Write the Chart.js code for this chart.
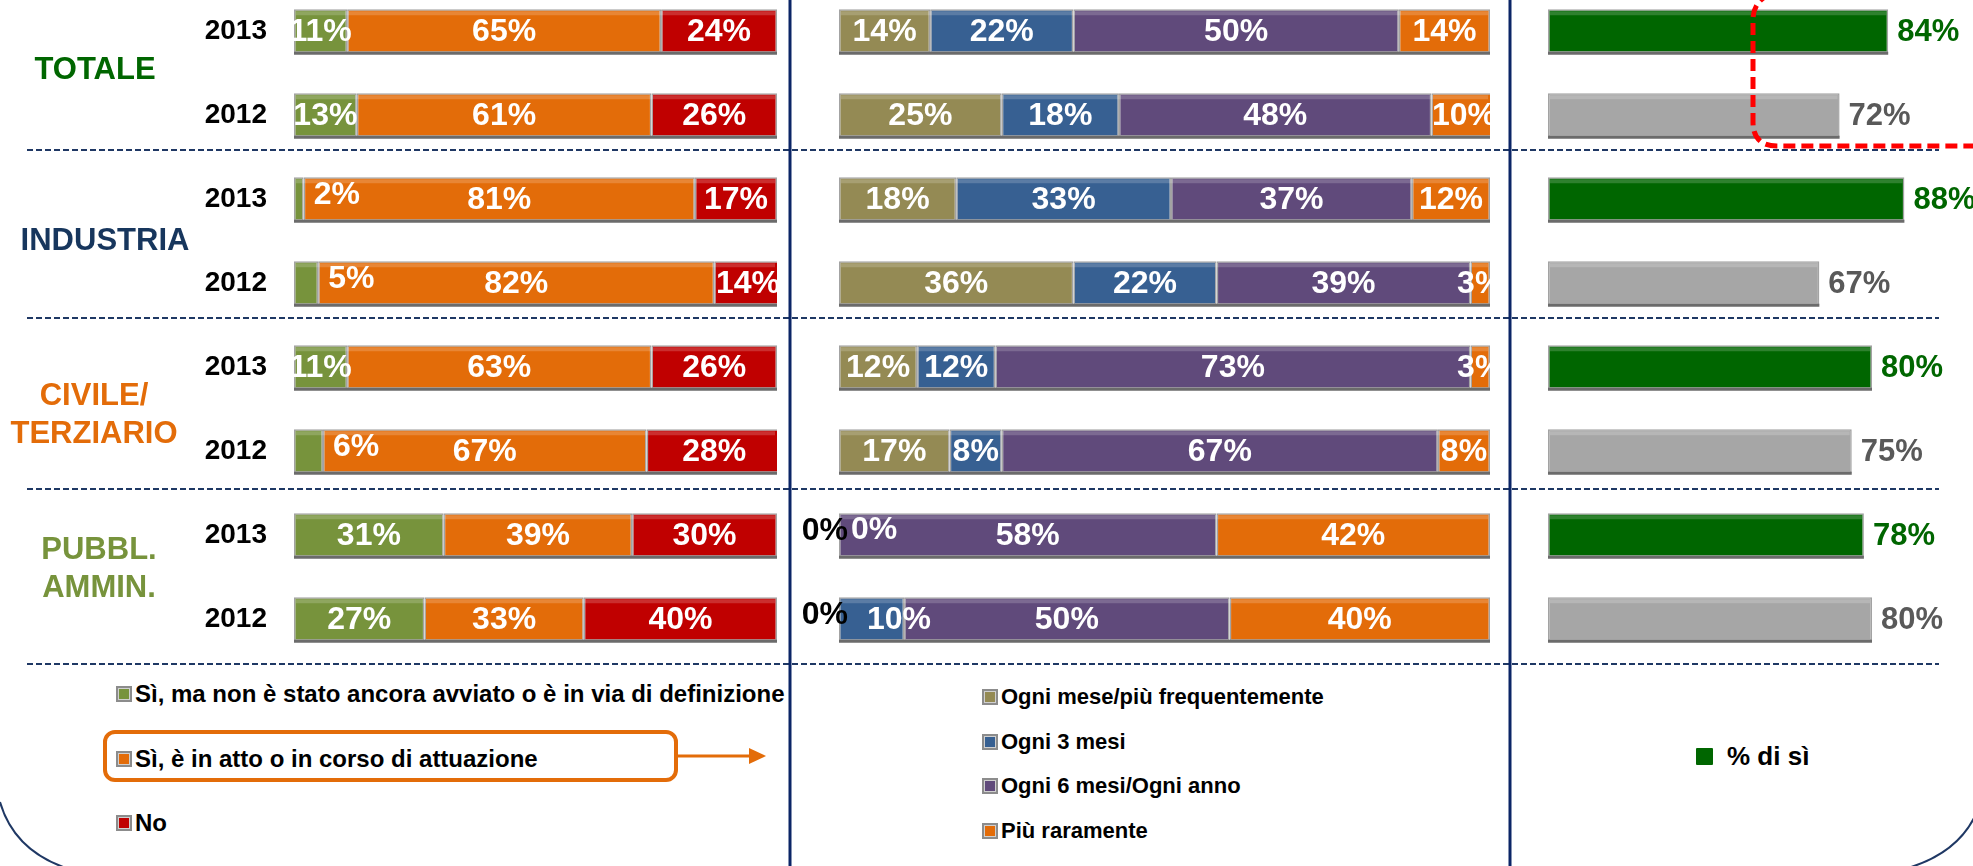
<!DOCTYPE html>
<html>
<head>
<meta charset="utf-8">
<script src="https://cdn.jsdelivr.net/npm/chart.js@4.4.1/dist/chart.umd.min.js"></script>
<style>
  html,body{margin:0;padding:0;background:#fff;}
  body{width:1973px;height:866px;position:relative;overflow:hidden;font-family:"Liberation Sans",Arial,Helvetica,sans-serif;}
  canvas{position:absolute;top:-11px;}
  .grp{position:absolute;width:220px;text-align:center;font-weight:bold;font-size:31px;line-height:38px;}
  .leg{position:absolute;display:flex;align-items:center;height:30px;font-weight:bold;color:#000;white-space:nowrap;}
  .leg .sw{display:inline-block;width:12px;height:12px;border:2px solid #8c8c8c;margin-right:3px;box-shadow:inset 0 0 0 1px #d0d0d0;}
  svg{position:absolute;left:0;top:0;pointer-events:none;}
</style>
</head>
<body>
<canvas id="cLeft" width="790" height="672" style="left:0"></canvas>
<canvas id="cMid" width="720" height="672" style="left:790px"></canvas>
<canvas id="cRight" width="463" height="672" style="left:1510px"></canvas>
<div id="overlay"></div>
<svg width="1973" height="866" viewBox="0 0 1973 866">
  <g stroke="#1f3864" stroke-width="2" stroke-dasharray="6 3">
    <line x1="27" y1="150" x2="1939" y2="150"/>
    <line x1="27" y1="318" x2="1939" y2="318"/>
    <line x1="27" y1="489" x2="1939" y2="489"/>
    <line x1="27" y1="664" x2="1939" y2="664"/>
  </g>
  <g stroke="#0b2566" stroke-width="3">
    <line x1="790" y1="0" x2="790" y2="866"/>
    <line x1="1510" y1="0" x2="1510" y2="866"/>
  </g>
  <path d="M 1770 -6 Q 1753 2 1753 20 L 1753 122 Q 1753 146 1777 146 L 1973 146" fill="none" stroke="#ff0000" stroke-width="5" stroke-dasharray="12 6"/>
  <rect x="105" y="732" width="571" height="48" rx="10" ry="10" fill="none" stroke="#e36c09" stroke-width="4"/>
  <line x1="676" y1="756" x2="752" y2="756" stroke="#e36c09" stroke-width="3"/>
  <polygon points="749,748 766,756 749,764" fill="#e36c09"/>
  <path d="M 0 802 Q 14 850 66 868" fill="none" stroke="#1f3864" stroke-width="2"/>
  <path d="M 1975 816 Q 1957 853 1908 868" fill="none" stroke="#1f3864" stroke-width="2"/>
</svg>
<script>
// ---------- DATA ----------
const years = ['2013','2012','2013','2012','2013','2012','2013','2012'];
const groupNames = ['TOTALE','INDUSTRIA','CIVILE/\nTERZIARIO','PUBBL.\nAMMIN.'];

const attLabels = ['Sì, ma non è stato ancora avviato o è in via di definizione','Sì, è in atto o in corso di attuazione','No'];
const attSiNonAvviato = [11,13,2,5,11,6,31,27];
const attSiInAtto     = [65,61,81,82,63,67,39,33];
const attNo           = [24,26,17,14,26,28,30,40];

const freqLabels = ['Ogni mese/più frequentemente','Ogni 3 mesi','Ogni 6 mesi/Ogni anno','Più raramente'];
const freqMese      = [14,25,18,36,12,17,0,0];
const freq3Mesi     = [22,18,33,22,12,8,0,10];
const freq6Mesi     = [50,48,37,39,73,67,58,50];
const freqRaramente = [14,10,12,3,3,8,42,40];

const siLabel = '% di sì';
const percSi = [84,72,88,67,80,75,78,80];

// ---------- STYLES ----------
const FONT = '"Liberation Sans", Arial, Helvetica, sans-serif';
const attColors  = ['#77933c','#e36c09','#c00000'];
const freqColors = ['#948a54','#376092','#604a7b','#e36c09'];
const siColor2013 = '#006600', siColor2012 = '#a6a6a6';
const siText2013 = '#006600', siText2012 = '#595959';
const groupColors = ['#006600','#17365d','#e36c09','#77933c'];

// bottom shadow under each bar row
const barShadow = {
  id:'barShadow',
  afterDatasetsDraw(chart){
    const ctx = chart.ctx, area = chart.chartArea;
    const n = chart.data.labels.length;
    ctx.save();
    for (let i=0;i<n;i++){
      let l=Infinity, r=-Infinity, y=0, h=0;
      chart.data.datasets.forEach((ds,di)=>{
        const el = chart.getDatasetMeta(di).data[i];
        if(!el) return;
        l = Math.min(l, el.base, el.x); r = Math.max(r, el.base, el.x);
        y = el.y; h = el.height;
      });
      r = Math.min(r, area.right);
      ctx.strokeStyle = '#6b6b6b'; ctx.lineWidth = 3;
      ctx.beginPath(); ctx.moveTo(l, y+h/2+0.5); ctx.lineTo(r, y+h/2+0.5); ctx.stroke();
      ctx.strokeStyle = 'rgba(255,255,255,0.18)'; ctx.lineWidth = 4;
      ctx.beginPath(); ctx.moveTo(l+2, y-h/2+4); ctx.lineTo(r-2, y-h/2+4); ctx.stroke();
    }
    ctx.restore();
  }
};

// value labels
const segLabels = {
  id:'segLabels',
  afterDatasetsDraw(chart, args, opts){
    const ctx = chart.ctx, area = chart.chartArea;
    ctx.save();
    ctx.beginPath(); ctx.rect(0, -50, area.right + (opts.clipPad||0), chart.height+100); ctx.clip();
    ctx.font = 'bold ' + opts.size + 'px ' + FONT;
    ctx.textBaseline = 'middle';
    chart.data.datasets.forEach((ds,di)=>{
      chart.getDatasetMeta(di).data.forEach((el,i)=>{
        const v = ds.data[i];
        const left = Math.min(el.x, el.base), right = Math.max(el.x, el.base);
        const prevZero = di>0 && chart.data.datasets.slice(0,di).every(d=>d.data[i]===0);
        const p = opts.rule(v, di, i, left, right, el.y, prevZero);
        ctx.fillStyle = p.color; ctx.textAlign = p.align;
        ctx.fillText(v + '%', p.x, p.y);
      });
    });
    ctx.restore();
  }
};

function baseOptions(padL, padR, labelOpts){
  return {
    indexAxis:'y', responsive:false, animation:false, maintainAspectRatio:false,
    layout:{padding:{left:padL,right:padR,top:0,bottom:0}},
    plugins:{legend:{display:false}, tooltip:{enabled:false}, segLabels:labelOpts},
    scales:{
      x:{stacked:true,min:0,max:100,display:false},
      y:{stacked:true,display:false}
    }
  };
}
function ds(label, data, color){
  return {label, data, backgroundColor:color, borderColor:'#a3a3a3', borderWidth:1.5, borderSkipped:false,
          barPercentage:0.52, categoryPercentage:1.0};
}

// LEFT chart
const leftOpts = baseOptions(0, 13, {
  size:32, clipPad:4,
  rule:(v,di,i,l,r,y)=> (v<=6 && di===0) ? {x:r+10, y:y-4, align:'left', color:'#fff'}
                                         : {x:(l+r)/2, y:y+1, align:'center', color:'#fff'}
});
leftOpts.scales.y = {
  stacked:true, display:true,
  grid:{display:false, drawTicks:false}, border:{display:false},
  ticks:{color:'#000', padding:27, font:{family:FONT, size:28, weight:'bold'}},
  afterFit(scale){ scale.width = 294; scale.paddingTop = 0; scale.paddingBottom = 0; }
};
new Chart(document.getElementById('cLeft'), {
  type:'bar',
  data:{labels:years, datasets:[
    ds(attLabels[0], attSiNonAvviato, attColors[0]),
    ds(attLabels[1], attSiInAtto, attColors[1]),
    ds(attLabels[2], attNo, attColors[2])
  ]},
  options:leftOpts,
  plugins:[barShadow, segLabels]
});

// MIDDLE chart
const midOpts = baseOptions(49, 20, {
  size:32, clipPad:2,
  rule:(v,di,i,l,r,y,prevZero)=>{
    if (v===0 && di===0) return {x:l+9, y:y-4, align:'right', color:'#000'};
    if (v===0) return {x:l+12, y:y-5, align:'left', color:'#fff'};
    if (prevZero && (r-l) < 80) return {x:l+28, y:y+1, align:'left', color:'#fff'};
    return {x:(l+r)/2, y:y+1, align:'center', color:'#fff'};
  }
});
new Chart(document.getElementById('cMid'), {
  type:'bar',
  data:{labels:years, datasets:[
    ds(freqLabels[0], freqMese, freqColors[0]),
    ds(freqLabels[1], freq3Mesi, freqColors[1]),
    ds(freqLabels[2], freq6Mesi, freqColors[2]),
    ds(freqLabels[3], freqRaramente, freqColors[3])
  ]},
  options:midOpts,
  plugins:[barShadow, segLabels]
});

// RIGHT chart
const rightOpts = baseOptions(38, 20, {
  size:31, clipPad:40,
  rule:(v,di,i,l,r,y)=>({x:r+9, y:y+1, align:'left', color: years[i]==='2013' ? siText2013 : siText2012})
});
new Chart(document.getElementById('cRight'), {
  type:'bar',
  data:{labels:years, datasets:[
    ds(siLabel, percSi, years.map(y=> y==='2013' ? siColor2013 : siColor2012))
  ]},
  options:rightOpts,
  plugins:[barShadow, segLabels]
});

// ---------- TEXT OVERLAYS (group labels, legends) ----------
const ov = document.getElementById('overlay');
const groupPos = [[95,69],[105,240],[94,395],[99,549]];
groupNames.forEach((g,k)=>{
  const d = document.createElement('div');
  d.className = 'grp';
  d.style.color = groupColors[k];
  d.style.left = (groupPos[k][0]-110) + 'px';
  d.style.top = (groupPos[k][1]-19) + 'px';
  d.innerHTML = g.split('\n').join('<br>');
  ov.appendChild(d);
});
function legendItem(text, color, x, cy, size, plain){
  const d = document.createElement('div');
  d.className = 'leg';
  d.style.left = x + 'px'; d.style.top = (cy-15) + 'px'; d.style.fontSize = size + 'px';
  const s = document.createElement('span');
  s.className = 'sw';
  s.style.background = color;
  if (plain){ s.style.width='17px'; s.style.height='17px'; s.style.border='none'; s.style.boxShadow='none'; s.style.marginRight='14px'; s.style.borderRadius='1px'; }
  d.appendChild(s);
  d.appendChild(document.createTextNode(text));
  ov.appendChild(d);
}
[694,759,823].forEach((cy,k)=> legendItem(attLabels[k], attColors[k], 116, cy, 24));
[697,742,786,831].forEach((cy,k)=> legendItem(freqLabels[k], freqColors[k], 982, cy, 22));
legendItem(siLabel, siColor2013, 1696, 756, 26, true);
</script>
</body>
</html>
